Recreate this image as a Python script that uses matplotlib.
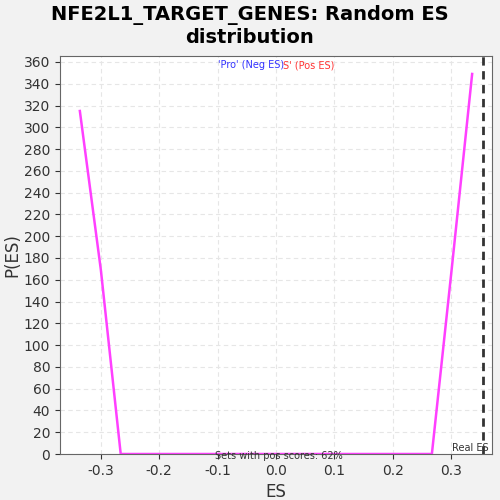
import matplotlib.pyplot as plt

plt.rcParams['axes.unicode_minus'] = False

# ES distribution curve points
es_vals = [-0.336, -0.300, -0.266, 0.267, 0.301, 0.336]
p_vals = [315, 169, 0, 0, 170, 349]
real_es = 0.354

fig = plt.figure(figsize=(5, 5), dpi=100, facecolor='#f2f2f2')
ax = fig.add_axes([0.12, 0.092, 0.864, 0.796])
ax.set_facecolor('white')

ax.plot(es_vals, p_vals, color='#ff40ff', lw=1.8)
ax.axvline(real_es, color='#333333', lw=2, ls=(0, (3, 2)))

ax.set_xlim(-0.37, 0.37)
ax.set_ylim(0, 365.5)
ax.set_xticks([-0.3, -0.2, -0.1, 0.0, 0.1, 0.2, 0.3])
ax.set_yticks(range(0, 361, 20))
ax.grid(True, color='#e6e6e6', ls=(0, (4, 3)), lw=0.8)
ax.tick_params(labelsize=10, colors='#333333')
for s in ax.spines.values():
    s.set_color('#666666')

ax.set_xlabel('ES', fontsize=12, color='#333333')
ax.set_ylabel('P(ES)', fontsize=12, color='#333333', labelpad=2)
fig.suptitle('NFE2L1_TARGET_GENES: Random ES\ndistribution', fontsize=14,
             fontweight='bold', y=0.99, linespacing=1.2)

ax.text(-0.1, 357, "'Pro' (Neg ES)", color='#3333ff', fontsize=7, ha='left', va='center')
ax.text(0.012, 357, "S' (Pos ES)", color='#ff3333', fontsize=7, ha='left', va='center')
ax.text(-0.105, -2, 'Sets with pos scores: 62%', fontsize=7, color='#333333', va='center', ha='left')
ax.text(0.365, 1, 'Real ES', fontsize=7, color='#333333', ha='right', va='bottom')

fig.savefig('out.png')
